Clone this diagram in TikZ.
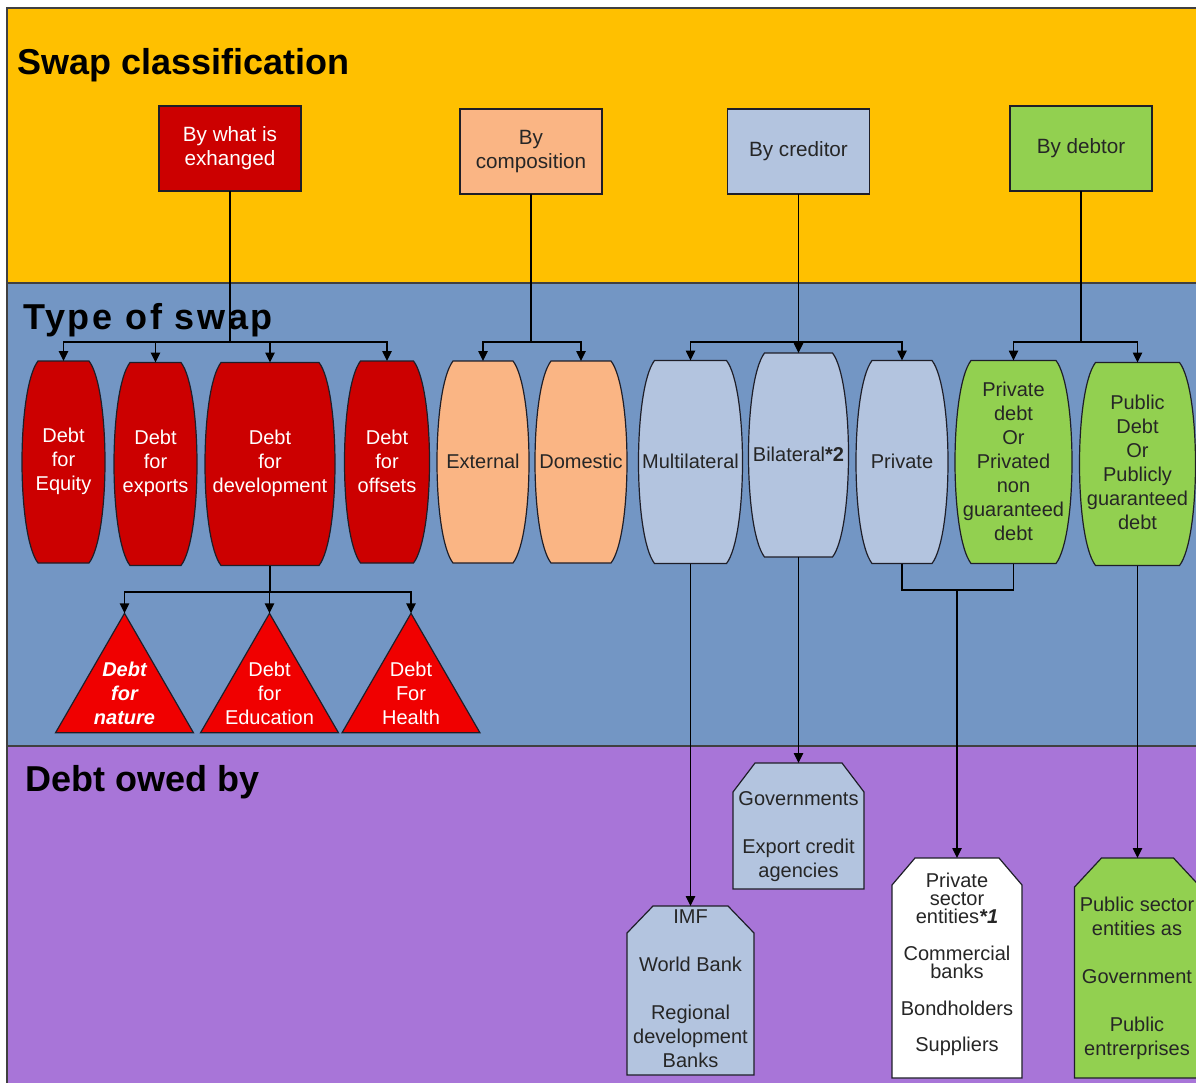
\documentclass[tikz,border=0pt]{standalone}
\usepackage{fontspec}
\setmainfont{Liberation Sans}
\usetikzlibrary{shapes.geometric,arrows.meta}
\definecolor{bandY}{HTML}{FFC000}
\definecolor{bandB}{HTML}{7396C4}
\definecolor{bandP}{HTML}{A875D8}
\definecolor{dred}{HTML}{CC0000}
\definecolor{bred}{HTML}{F00000}
\definecolor{orng}{HTML}{FAB584}
\definecolor{lblue}{HTML}{B3C4DF}
\definecolor{lgreen}{HTML}{92D050}
\definecolor{outl}{HTML}{1E1E28}
\definecolor{txtd}{HTML}{262626}
\newcommand\chamf[4]{%
  \path[fill=#2,draw=outl,line width=0.9pt]
    ([yshift=-#4*0.75pt]#1.north west) -- ([xshift=#3*0.75pt]#1.north west)
    -- ([xshift=-#3*0.75pt]#1.north east) -- ([yshift=-#4*0.75pt]#1.north east)
    -- (#1.south east) -- (#1.south west) -- cycle;}
\newcommand\barrelpath[2]{%
  \path[fill=#2,draw=outl,line width=0.9pt]
    ([xshift=12pt]#1.north west) -- ([xshift=-12pt]#1.north east)
    .. controls ([xshift=4pt,yshift=-21pt]#1.north east) and ([xshift=4pt,yshift=21pt]#1.south east) .. ([xshift=-12pt]#1.south east)
    -- ([xshift=12pt]#1.south west)
    .. controls ([xshift=-4pt,yshift=21pt]#1.south west) and ([xshift=-4pt,yshift=-21pt]#1.north west) .. cycle;}
\tikzset{
  lbl/.style={align=center, font=\fontsize{15}{18}\selectfont, text=txtd, inner sep=0pt},
  wlbl/.style={lbl, text=white},
  topbox/.style={rectangle, draw=outl, line width=0.9pt, minimum width=106.5pt, minimum height=63.75pt, inner sep=0pt, outer sep=0pt, align=center, font=\fontsize{15.5}{18}\selectfont, text=txtd},
  tri/.style={regular polygon, regular polygon sides=3, minimum size=119.5pt, inner sep=0pt, outer sep=0pt, draw=outl, line width=0.9pt, fill=bred},
  cbox/.style={rectangle, draw=none, inner sep=0pt, outer sep=0pt},
  conn/.style={line width=1.1pt, draw=black},
  arr/.style={conn, -{Triangle[length=7.5pt,width=7pt]}},
  title/.style={font=\fontsize{27}{30}\selectfont\bfseries, anchor=base west, inner sep=0pt, text=black},
}
\begin{document}
\begin{tikzpicture}[x=0.75pt,y=-0.75pt]
\clip (0,0) rectangle (1196,1082);
\fill[white] (0,0) rectangle (1196,1082);
% bands
\path[fill=bandY,draw=black!75,line width=1pt] (7,8) rectangle (1210,283);
\path[fill=bandB,draw=black!75,line width=1pt] (7,283) rectangle (1210,746);
\path[fill=bandP,draw=black!75,line width=1pt] (7,746) rectangle (1210,1095);
% titles
\node[title] (t1) at (17,74) {Swap classification};
\node[title] (t2) at (23,329) {\addfontfeature{LetterSpace=7.5}Type of swap};
\node[title] (t3) at (25,791) {Debt owed by};
% top boxes
\node[topbox, fill=dred, text=white] (wh) at (230,148.5) {By what is\\exhanged};
\node[topbox, fill=orng] (comp) at (531,151.5) {By\\composition};
\node[topbox, fill=lblue] (cr) at (798.5,151.5) {By creditor};
\node[topbox, fill=lgreen] (deb) at (1081,148.5) {By debtor};
% barrels
\node[cbox, minimum width=62.25pt, minimum height=151.5pt] (eq) at (63.5,462) {};
\barrelpath{eq}{dred}
\node[wlbl] (eqtx) at (63.5,461) {Debt\\for\\Equity};
\node[cbox, minimum width=62.25pt, minimum height=152.25pt] (exp) at (155.5,464) {};
\barrelpath{exp}{dred}
\node[wlbl] (exptx) at (155.5,463) {Debt\\for\\exports};
\node[cbox, minimum width=97.5pt, minimum height=152.25pt] (dev) at (270,464) {};
\barrelpath{dev}{dred}
\node[wlbl] (devtx) at (270,463) {Debt\\for\\development};
\node[cbox, minimum width=63.75pt, minimum height=151.5pt] (off) at (387,462) {};
\barrelpath{off}{dred}
\node[wlbl] (offtx) at (387,461) {Debt\\for\\offsets};
\node[cbox, minimum width=69pt, minimum height=151.5pt] (ext) at (483,462) {};
\barrelpath{ext}{orng}
\node[lbl] (exttx) at (483,461) {External};
\node[cbox, minimum width=69pt, minimum height=151.5pt] (dom) at (581,462) {};
\barrelpath{dom}{orng}
\node[lbl] (domtx) at (581,461) {Domestic};
\node[cbox, minimum width=78pt, minimum height=152.25pt] (mul) at (690.5,462) {};
\barrelpath{mul}{lblue}
\node[lbl] (multx) at (690.5,461) {Multilateral};
\node[cbox, minimum width=75pt, minimum height=153pt] (bil) at (798.5,455) {};
\barrelpath{bil}{lblue}
\node[lbl] (biltx) at (798.5,454) {Bilateral\textbf{*2}};
\node[cbox, minimum width=69pt, minimum height=152.25pt] (priv) at (902,462) {};
\barrelpath{priv}{lblue}
\node[lbl] (privtx) at (902,461) {Private};
\node[cbox, minimum width=87.75pt, minimum height=152.25pt] (pdebt) at (1013.5,462) {};
\barrelpath{pdebt}{lgreen}
\node[lbl] (pdebttx) at (1013.5,461) {Private\\debt\\Or\\Privated\\non\\guaranteed\\debt};
\node[cbox, minimum width=87pt, minimum height=152.25pt] (pub) at (1137.5,464) {};
\barrelpath{pub}{lgreen}
\node[lbl] (pubtx) at (1137.5,462) {Public\\Debt\\Or\\Publicly\\guaranteed\\debt};
% triangles
\node[tri, label={[wlbl, font=\fontsize{15}{18}\selectfont\bfseries\itshape]center:Debt\\for\\nature}] (nat) at (124.5,693) {};
\node[tri, label={[wlbl]center:Debt\\for\\Education}] (edu) at (269.5,693) {};
\node[tri, label={[wlbl]center:Debt\\For\\Health}] (hea) at (411,693) {};
% bottom chamfered boxes
\node[cbox, minimum width=95.25pt, minimum height=126.75pt] (imf) at (690.5,990.5) {};
\chamf{imf}{lblue}{26}{27}
\node[lbl] (imftx) at (690.5,989) {IMF\\[18pt]World Bank\\[18pt]Regional\\development\\Banks};
\node[cbox, minimum width=98.25pt, minimum height=94.5pt] (gov) at (798.5,826) {};
\chamf{gov}{lblue}{22}{29}
\node[lbl] (govtx) at (798.5,837) {Governments\\[18pt]Export credit\\agencies};
\node[cbox, minimum width=97.5pt, minimum height=165pt] (pse) at (957,968) {};
\chamf{pse}{white}{23}{27}
\node[lbl, font=\fontsize{15}{13.5}\selectfont] (psetx) at (957,964.5) {Private\\sector\\entities\textbf{\textit{*1}}\\[14.25pt]Commercial\\banks\\[14.25pt]Bondholders\\[13.5pt]Suppliers};
\node[cbox, minimum width=94.5pt, minimum height=165pt] (psec) at (1137.5,968) {};
\chamf{psec}{lgreen}{27}{29}
\node[lbl] (psectx) at (1137,978) {Public sector\\entities as\\[18pt]Government\\[18pt]Public\\entrerprises};
% connectors
\coordinate (j1) at (230,342);
\coordinate (j2) at (531,342);
\coordinate (j3) at (798.5,342);
\coordinate (j4) at (1081,342);
\coordinate (j5) at (270,592);
\coordinate (j6) at (957,590);
\draw[conn] (wh.south) -- (j1);
\draw[arr] (j1) -| (eq.north);
\draw[arr] (j1) -| (exp.north);
\draw[arr] (j1) -| (dev.north);
\draw[arr] (j1) -| (off.north);
\draw[conn] (comp.south) -- (j2);
\draw[arr] (j2) -| (ext.north);
\draw[arr] (j2) -| (dom.north);
\draw[arr] (cr.south) -- (bil.north);
\draw[arr] (j3) -| (mul.north);
\draw[arr] (j3) -| (priv.north);
\draw[conn] (deb.south) -- (j4);
\draw[arr] (j4) -| (pdebt.north);
\draw[arr] (j4) -| (pub.north);
\draw[conn] (dev.south) -- (j5);
\draw[arr] (j5) -| (nat.north);
\draw[arr] (j5) -| (edu.north);
\draw[arr] (j5) -| (hea.north);
\draw[arr] (mul.south) -- (imf.north);
\draw[arr] (bil.south) -- (gov.north);
\draw[conn] (priv.south) |- (j6);
\draw[conn] (pdebt.south) |- (j6);
\draw[arr] (j6) -- (pse.north);
\draw[arr] (pub.south) -- (psec.north);
\end{tikzpicture}
\end{document}
